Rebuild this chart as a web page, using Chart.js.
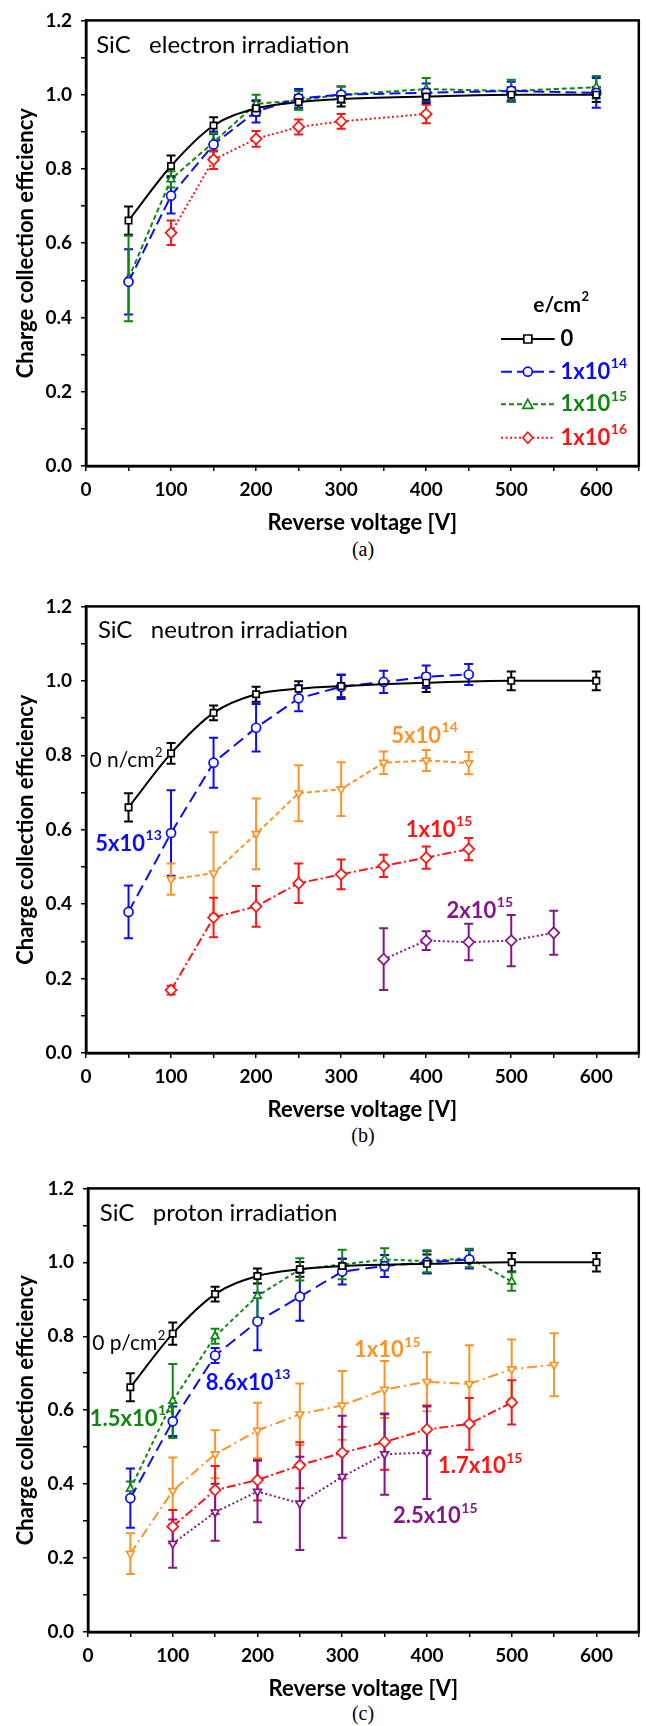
<!DOCTYPE html>
<html>
<head>
<meta charset="utf-8">
<script src="https://cdn.jsdelivr.net/npm/chart.js@4.4.1/dist/chart.umd.min.js"></script>
<style>
  html, body { margin: 0; padding: 0; background: #fff; }
  body { width: 646px; height: 1726px; position: relative; overflow: hidden; }
  .panel { position: absolute; left: 0; }
  .cap { position: absolute; left: 313px; width: 100px; text-align: center;
         font: 20px "Liberation Serif", "DejaVu Serif", serif; color: #000; }
</style>
</head>
<body>
<div class="panel" style="top:0px"><canvas id="chartA" width="646" height="536"></canvas></div>
<div class="cap" style="top:538px">(a)</div>
<div class="panel" style="top:586px"><canvas id="chartB" width="646" height="537"></canvas></div>
<div class="cap" style="top:1124px">(b)</div>
<div class="panel" style="top:1168px"><canvas id="chartC" width="646" height="534"></canvas></div>
<div class="cap" style="top:1702px">(c)</div>

<script>
// ── (a) electron irradiation ──────────────────
const VOLT_A   = [50, 100, 150, 200, 250, 300, 400, 500, 600];
const A_0      = [0.661, 0.808, 0.917, 0.963, 0.980, 0.988, 0.995, 1.000, 1.000];
const A_0_ERR  = [0.038, 0.028, 0.022, 0.020, 0.020, 0.020, 0.020, 0.020, 0.020];
const A_14     = [0.496, 0.728, 0.866, 0.955, 0.990, 1.000, 1.005, 1.010, 1.005];
const A_14_ERR = [0.088, 0.048, 0.035, 0.030, 0.025, 0.022, 0.025, 0.025, 0.040];
const A_15     = [0.505, 0.772, 0.872, 0.975, 0.985, 1.000, 1.015, 1.010, 1.020];
const A_15_ERR = [0.115, 0.022, 0.025, 0.025, 0.025, 0.022, 0.030, 0.030, 0.030];
const VOLT_A16 = [100, 150, 200, 250, 300, 400];
const A_16     = [0.628, 0.825, 0.881, 0.913, 0.928, 0.948];
const A_16_ERR = [0.033, 0.025, 0.021, 0.020, 0.020, 0.025];

// ── (b) neutron irradiation ───────────────────
const VOLT_B   = [50, 100, 150, 200, 250, 300, 400, 500, 600];
const B_0      = [0.660, 0.805, 0.914, 0.964, 0.979, 0.986, 0.995, 1.000, 1.000];
const B_0_ERR  = [0.038, 0.028, 0.020, 0.020, 0.020, 0.030, 0.025, 0.025, 0.025];
const VOLT_B13 = [50, 100, 150, 200, 250, 300, 350, 400, 450];
const B_13     = [0.379, 0.591, 0.780, 0.874, 0.953, 0.984, 0.997, 1.011, 1.017];
const B_13_ERR = [0.071, 0.115, 0.067, 0.064, 0.035, 0.033, 0.030, 0.030, 0.028];
const VOLT_B14 = [100, 150, 200, 250, 300, 350, 400, 450];
const B_14     = [0.467, 0.483, 0.589, 0.698, 0.709, 0.780, 0.786, 0.779];
const B_14_ERR = [0.042, 0.110, 0.095, 0.075, 0.072, 0.030, 0.028, 0.030];
const B_15     = [0.169, 0.364, 0.394, 0.456, 0.480, 0.503, 0.525, 0.548];
const B_15_ERR = [0.012, 0.053, 0.055, 0.053, 0.040, 0.030, 0.030, 0.030];
const VOLT_B2  = [350, 400, 450, 500, 550];
const B_2      = [0.252, 0.302, 0.298, 0.302, 0.323];
const B_2_ERR  = [0.083, 0.025, 0.049, 0.069, 0.059];

// ── (c) proton irradiation ────────────────────
const VOLT_C   = [50, 100, 150, 200, 250, 300, 400, 500, 600];
const C_0      = [0.662, 0.807, 0.914, 0.963, 0.981, 0.990, 0.996, 1.000, 1.000];
const C_0_ERR  = [0.038, 0.030, 0.020, 0.020, 0.020, 0.020, 0.025, 0.025, 0.025];
const VOLT_C13 = [50, 100, 150, 200, 250, 300, 350, 400, 450];
const C_13     = [0.362, 0.570, 0.748, 0.840, 0.907, 0.975, 0.990, 1.000, 1.008];
const C_13_ERR = [0.080, 0.040, 0.020, 0.078, 0.065, 0.035, 0.030, 0.030, 0.025];
const VOLT_C14 = [50, 100, 150, 200, 250, 300, 350, 400, 450, 500];
const C_14     = [0.387, 0.625, 0.800, 0.909, 0.981, 0.994, 1.008, 1.003, 1.012, 0.948];
const C_14_ERR = [0.020, 0.100, 0.020, 0.060, 0.030, 0.040, 0.030, 0.030, 0.025, 0.025];
const VOLT_C15 = [50, 100, 150, 200, 250, 300, 350, 400, 450, 500, 550];
const C_15     = [0.212, 0.382, 0.481, 0.545, 0.589, 0.613, 0.656, 0.677, 0.671, 0.711, 0.723];
const C_15_ERR = [0.055, 0.090, 0.065, 0.075, 0.083, 0.093, 0.077, 0.080, 0.105, 0.080, 0.085];
const VOLT_C17 = [100, 150, 200, 250, 300, 350, 400, 450, 500];
const C_17     = [0.285, 0.384, 0.411, 0.451, 0.485, 0.514, 0.548, 0.563, 0.621];
const C_17_ERR = [0.045, 0.065, 0.055, 0.062, 0.070, 0.075, 0.065, 0.070, 0.060];
const VOLT_C25 = [100, 150, 200, 250, 300, 350, 400];
const C_25     = [0.239, 0.324, 0.380, 0.348, 0.420, 0.481, 0.485];
const C_25_ERR = [0.065, 0.077, 0.083, 0.126, 0.165, 0.110, 0.125];

// ── Axis ticks ────────────────────────────────
const X_MAX = 650, X_STEP = 50;
const Y_MAX = 1.2, Y_STEP = 0.1;

// ── Styles ────────────────────────────────────
const FONT = 'Lato, "Open Sans", "DejaVu Sans", sans-serif';
const BLACK = '#000000', BLUE = '#0a0aff', GREEN = '#0f870f';
const RED = '#ff1414', ORANGE = '#ff9326', PURPLE = '#86148a';

function pts(xs, ys) { return xs.map((x, i) => ({ x, y: ys[i] })); }

function series(xs, ys, err, color, dash, marker, extra) {
  return Object.assign({
    data: pts(xs, ys), err, marker,
    borderColor: color, backgroundColor: color,
    borderWidth: 2, borderDash: dash,
    pointStyle: marker === 'down' ? 'triangle' : marker,
    pointRotation: marker === 'down' ? 180 : 0,
    pointRadius: marker === 'rectRot' ? 5.5 : 4.5,
    pointBorderWidth: 1.7,
    pointBackgroundColor: '#fff', pointBorderColor: color,
    tension: 0, fill: false
  }, extra || {});
}
const SMOOTH = { tension: 0.4, cubicInterpolationMode: 'monotone' };

// ── Text helper (base + superscript) ──────────
function supText(ctx, base, sup, x, y, size, bold, color) {
  const w = bold ? 'bold ' : '';
  ctx.fillStyle = color;
  ctx.textBaseline = 'middle';
  ctx.textAlign = 'left';
  ctx.font = `${w}${size}px ${FONT}`;
  ctx.fillText(base, x, y);
  let width = ctx.measureText(base).width;
  if (sup) {
    ctx.font = `${w}${Math.round(size * 0.64)}px ${FONT}`;
    ctx.fillText(sup, x + width + 0.5, y - size * 0.36);
    width += ctx.measureText(sup).width;
  }
  return width;
}

function drawMarker(ctx, marker, x, y, color) {
  ctx.save();
  ctx.setLineDash([]);
  ctx.lineWidth = 1.7;
  ctx.strokeStyle = color;
  ctx.fillStyle = '#fff';
  ctx.beginPath();
  if (marker === 'rect') ctx.rect(x - 4, y - 4, 8, 8);
  else if (marker === 'circle') ctx.arc(x, y, 4.5, 0, Math.PI * 2);
  else if (marker === 'triangle') { ctx.moveTo(x, y - 5); ctx.lineTo(x + 5, y + 4); ctx.lineTo(x - 5, y + 4); ctx.closePath(); }
  else if (marker === 'down') { ctx.moveTo(x, y + 5); ctx.lineTo(x + 5, y - 4); ctx.lineTo(x - 5, y - 4); ctx.closePath(); }
  else { ctx.moveTo(x, y - 5.5); ctx.lineTo(x + 5, y); ctx.lineTo(x, y + 5.5); ctx.lineTo(x - 5, y); ctx.closePath(); }
  ctx.fill();
  ctx.stroke();
  ctx.restore();
}

// ── Plugins ───────────────────────────────────
const errorBars = {
  id: 'errorBars',
  beforeDatasetsDraw(chart) {
    const { ctx, scales: { x, y } } = chart;
    ctx.save();
    ctx.setLineDash([]);
    ctx.lineWidth = 2;
    chart.data.datasets.forEach(ds => {
      if (!ds.err) return;
      ctx.strokeStyle = ds.borderColor;
      ds.data.forEach((p, i) => {
        const px = x.getPixelForValue(p.x);
        const top = y.getPixelForValue(p.y + ds.err[i]);
        const bot = y.getPixelForValue(p.y - ds.err[i]);
        ctx.beginPath();
        ctx.moveTo(px, top); ctx.lineTo(px, bot);
        ctx.moveTo(px - 4.5, top); ctx.lineTo(px + 4.5, top);
        ctx.moveTo(px - 4.5, bot); ctx.lineTo(px + 4.5, bot);
        ctx.stroke();
      });
    });
    ctx.restore();
  }
};

const frame = {
  id: 'frame',
  afterDraw(chart) {
    const { ctx, chartArea: a } = chart;
    ctx.save();
    ctx.strokeStyle = '#000';
    ctx.lineWidth = 2.5;
    ctx.setLineDash([]);
    ctx.strokeRect(a.left, a.top, a.right - a.left, a.bottom - a.top);
    ctx.restore();
  }
};

// notes: [{ text, sup, x, y, color, size, bold }] in data coordinates
function notesPlugin(notes) {
  return {
    id: 'notes',
    afterDraw(chart) {
      const { ctx, scales: { x, y } } = chart;
      ctx.save();
      notes.forEach(n => supText(ctx, n.text, n.sup, x.getPixelForValue(n.x), y.getPixelForValue(n.y),
                                 n.size || 22, n.bold, n.color || BLACK));
      ctx.restore();
    }
  };
}

// legend for panel (a), rows follow dataset order
function legendPlugin(title, rows) {
  return {
    id: 'seriesLegend',
    afterDraw(chart) {
      const { ctx, scales: { x, y } } = chart;
      ctx.save();
      supText(ctx, title.text, title.sup, x.getPixelForValue(title.x), y.getPixelForValue(title.y), 21, true, BLACK);
      rows.forEach((r, i) => {
        const ds = chart.data.datasets[i];
        const py = y.getPixelForValue(r.y);
        const x0 = x.getPixelForValue(r.x0), x1 = x.getPixelForValue(r.x1);
        ctx.strokeStyle = ds.borderColor;
        ctx.lineWidth = 2;
        ctx.setLineDash(ds.borderDash);
        ctx.beginPath(); ctx.moveTo(x0, py); ctx.lineTo(x1, py); ctx.stroke();
        drawMarker(ctx, ds.marker, (x0 + x1) / 2, py, ds.borderColor);
        supText(ctx, r.text, r.sup, x.getPixelForValue(r.xt), py, 22, true, ds.borderColor);
      });
      ctx.restore();
    }
  };
}

// ── Chart builder ─────────────────────────────
function makeChart(id, datasets, geom, extraPlugins) {
  const tickFont = { family: FONT, size: 19, weight: 'bold' };
  const titleFont = { family: FONT, size: 22, weight: 'bold' };
  return new Chart(document.getElementById(id), {
    type: 'line',
    data: { datasets },
    options: {
      responsive: false,
      animation: false,
      events: [],
      layout: { padding: { top: geom.top, right: 6, left: 0, bottom: 0 } },
      plugins: { legend: { display: false }, tooltip: { enabled: false } },
      scales: {
        x: {
          type: 'linear', min: 0, max: X_MAX,
          afterFit: s => { s.height = 70; },
          ticks: {
            stepSize: X_STEP, autoSkip: false, maxRotation: 0, padding: 7, color: BLACK, font: tickFont,
            callback: v => (v % 100 === 0 && v <= 600 ? String(v) : '')
          },
          grid: { drawOnChartArea: false, tickLength: 5, color: BLACK, lineWidth: 1.5 },
          border: { color: BLACK, width: 2.5 },
          title: { display: true, text: 'Reverse voltage [V]', color: BLACK, font: titleFont, padding: { top: 0, bottom: 0 } }
        },
        y: {
          min: 0, max: Y_MAX,
          afterFit: s => { s.width = geom.left; },
          ticks: {
            stepSize: Y_STEP, padding: 9, color: BLACK, font: tickFont,
            callback: v => (Math.round(v * 10) % 2 === 0 ? v.toFixed(1) : '')
          },
          grid: { drawOnChartArea: false, tickLength: 5, color: BLACK, lineWidth: 1.5 },
          border: { color: BLACK, width: 2.5 },
          title: { display: true, text: 'Charge collection efficiency', color: BLACK, font: titleFont, padding: { top: 13, bottom: 0 } }
        }
      }
    },
    plugins: [errorBars, frame].concat(extraPlugins)
  });
}

// ── Panel (a) ─────────────────────────────────
makeChart('chartA', [
  series(VOLT_A, A_0, A_0_ERR, BLACK, [], 'rect', SMOOTH),
  series(VOLT_A, A_14, A_14_ERR, BLUE, [11, 5], 'circle'),
  series(VOLT_A, A_15, A_15_ERR, GREEN, [5, 3], 'triangle'),
  series(VOLT_A16, A_16, A_16_ERR, RED, [2, 2.5], 'rectRot')
], { top: 17, left: 86 }, [
  notesPlugin([{ text: 'SiC   electron irradiation', x: 12, y: 1.132, size: 24 }]),
  legendPlugin({ text: 'e/cm', sup: '2', x: 526, y: 0.434 }, [
    { text: '0', x0: 488, x1: 551, xt: 558, y: 0.342 },
    { text: '1x10', sup: '14', x0: 488, x1: 551, xt: 558, y: 0.254 },
    { text: '1x10', sup: '15', x0: 488, x1: 551, xt: 558, y: 0.166 },
    { text: '1x10', sup: '16', x0: 488, x1: 551, xt: 558, y: 0.076 }
  ])
]);

// ── Panel (b) ─────────────────────────────────
makeChart('chartB', [
  series(VOLT_B, B_0, B_0_ERR, BLACK, [], 'rect', SMOOTH),
  series(VOLT_B13, B_13, B_13_ERR, BLUE, [12, 6], 'circle'),
  series(VOLT_B14, B_14, B_14_ERR, ORANGE, [5, 3], 'down'),
  series(VOLT_B14, B_15, B_15_ERR, RED, [9, 3, 2, 3], 'rectRot'),
  series(VOLT_B2, B_2, B_2_ERR, PURPLE, [2, 2.5], 'rectRot')
], { top: 17, left: 86 }, [
  notesPlugin([
    { text: 'SiC   neutron irradiation', x: 14, y: 1.135, size: 24 },
    { text: '0 n/cm', sup: '2', x: 4, y: 0.786, size: 21 },
    { text: '5x10', sup: '13', x: 11, y: 0.562, color: BLUE, bold: true },
    { text: '5x10', sup: '14', x: 359, y: 0.853, color: ORANGE, bold: true },
    { text: '1x10', sup: '15', x: 376, y: 0.600, color: RED, bold: true },
    { text: '2x10', sup: '15', x: 424, y: 0.383, color: PURPLE, bold: true }
  ])
]);

// ── Panel (c) ─────────────────────────────────
makeChart('chartC', [
  series(VOLT_C, C_0, C_0_ERR, BLACK, [], 'rect', SMOOTH),
  series(VOLT_C13, C_13, C_13_ERR, BLUE, [12, 6], 'circle'),
  series(VOLT_C14, C_14, C_14_ERR, GREEN, [4, 3], 'triangle'),
  series(VOLT_C15, C_15, C_15_ERR, ORANGE, [10, 4, 2, 4], 'down'),
  series(VOLT_C17, C_17, C_17_ERR, RED, [9, 3, 2, 3], 'rectRot'),
  series(VOLT_C25, C_25, C_25_ERR, PURPLE, [2, 2.5], 'down')
], { top: 17, left: 88 }, [
  notesPlugin([
    { text: 'SiC   proton irradiation', x: 14, y: 1.133, size: 24 },
    { text: '0 p/cm', sup: '2', x: 5, y: 0.781, size: 21 },
    { text: '8.6x10', sup: '13', x: 139, y: 0.674, color: BLUE, bold: true },
    { text: '1.5x10', sup: '14', x: 2, y: 0.577, color: GREEN, bold: true },
    { text: '1x10', sup: '15', x: 314, y: 0.762, color: ORANGE, bold: true },
    { text: '1.7x10', sup: '15', x: 413, y: 0.448, color: RED, bold: true },
    { text: '2.5x10', sup: '15', x: 360, y: 0.314, color: PURPLE, bold: true }
  ])
]);
</script>
</body>
</html>
